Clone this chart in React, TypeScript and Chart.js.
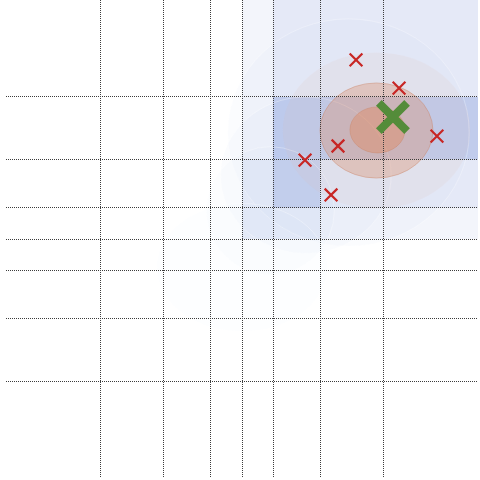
import React, { useEffect, useRef } from "react";
import { Chart, registerables } from "chart.js";

Chart.register(...registerables);

// Axis extents and tick (grid) values, in data units
const X_RANGE = [-1.662, 1.662];
const Y_RANGE = [-1.683, 1.683];
const X_TICKS = [-1.0, -0.55, -0.22, 0, 0.22, 0.55, 1.0];
const Y_TICKS = [-1.0, -0.56, -0.22, 0, 0.22, 0.56, 1.0];

// Observed samples (red crosses)
const SAMPLE_X = [0.803, 1.106, 1.373, 0.676, 0.444, 0.627];
const SAMPLE_Y = [1.261, 1.063, 0.725, 0.655, 0.556, 0.31];

// Best point (green cross)
const BEST_X = [1.063];
const BEST_Y = [0.859];

// Shaded regions: [x0, x1, y0, y1, alpha]
const REGION_X0 = [0, 0.218, 0.218, 0.218, 0];
const REGION_X1 = [1.662, 1.662, 1.662, 0.549, 0.549];
const REGION_Y0 = [0, 0.218, 0.56, 0.22, 0];
const REGION_Y1 = [1.683, 1.683, 1.0, 0.56, 0.56];
const REGION_ALPHA = [0.08, 0.1, 0.28, 0.15, 0.07];

// Faint blue contour ellipses: centre, radii, alpha
const BLUE_CX = [0.75, 0.45, 0.2, 0.0];
const BLUE_CY = [0.75, 0.45, 0.2, -0.2];
const BLUE_RX = [0.85, 0.6, 0.45, 0.6];
const BLUE_RY = [0.8, 0.55, 0.45, 0.45];
const BLUE_ALPHA = [0.03, 0.03, 0.02, 0.012];

// Orange density ellipses around the best point
const ORANGE_CX = [0.947, 0.947, 0.954];
const ORANGE_CY = [0.764, 0.764, 0.768];
const ORANGE_RX = [0.66, 0.398, 0.194];
const ORANGE_RY = [0.55, 0.335, 0.162];
const ORANGE_FILL = [
  "rgba(230,180,160,0.1)",
  "rgba(220,145,110,0.36)",
  "rgba(225,140,100,0.45)",
];

const shadingPlugin = {
  id: "shading",
  beforeDraw(chart: any) {
    const { ctx, chartArea, scales } = chart;
    const xs = scales.x;
    const ys = scales.y;
    ctx.save();
    ctx.beginPath();
    ctx.rect(chartArea.left, chartArea.top, chartArea.right - chartArea.left, chartArea.bottom - chartArea.top);
    ctx.clip();
    for (let i = 0; i < REGION_X0.length; i++) {
      const l = xs.getPixelForValue(REGION_X0[i]);
      const r = xs.getPixelForValue(REGION_X1[i]);
      const t = ys.getPixelForValue(REGION_Y1[i]);
      const b = ys.getPixelForValue(REGION_Y0[i]);
      ctx.fillStyle = `rgba(100,130,210,${REGION_ALPHA[i]})`;
      ctx.fillRect(l, t, r - l, b - t);
    }
    for (let i = 0; i < BLUE_CX.length; i++) {
      const cx = xs.getPixelForValue(BLUE_CX[i]);
      const cy = ys.getPixelForValue(BLUE_CY[i]);
      const rx = Math.abs(xs.getPixelForValue(BLUE_CX[i] + BLUE_RX[i]) - cx);
      const ry = Math.abs(ys.getPixelForValue(BLUE_CY[i] + BLUE_RY[i]) - cy);
      ctx.beginPath();
      ctx.ellipse(cx, cy, rx, ry, 0, 0, Math.PI * 2);
      ctx.fillStyle = `rgba(120,150,220,${BLUE_ALPHA[i]})`;
      ctx.fill();
      ctx.strokeStyle = "rgba(255,255,255,0.3)";
      ctx.lineWidth = 1;
      ctx.stroke();
    }
    for (let i = 0; i < ORANGE_CX.length; i++) {
      const cx = xs.getPixelForValue(ORANGE_CX[i]);
      const cy = ys.getPixelForValue(ORANGE_CY[i]);
      const rx = Math.abs(xs.getPixelForValue(ORANGE_CX[i] + ORANGE_RX[i]) - cx);
      const ry = Math.abs(ys.getPixelForValue(ORANGE_CY[i] + ORANGE_RY[i]) - cy);
      ctx.beginPath();
      ctx.ellipse(cx, cy, rx, ry, 0, 0, Math.PI * 2);
      ctx.fillStyle = ORANGE_FILL[i];
      ctx.fill();
      if (i > 0) {
        ctx.strokeStyle = "rgba(200,130,100,0.4)";
        ctx.lineWidth = 1;
        ctx.stroke();
      }
    }
    ctx.restore();
  },
};

export default function App() {
  const ref = useRef<HTMLCanvasElement | null>(null);
  useEffect(() => {
    if (!ref.current) return;
    const gridOpts = {
      color: "rgba(60,60,60,1)",
      lineWidth: 1,
      drawTicks: false,
    };
    const chart = new Chart(ref.current, {
      type: "scatter",
      data: {
        datasets: [
          {
            data: BEST_X.map((x, i) => ({ x, y: BEST_Y[i] })),
            pointStyle: "crossRot",
            pointRadius: 20,
            pointBorderWidth: 8,
            borderColor: "rgb(84,140,58)",
            backgroundColor: "rgb(84,140,58)",
          },
          {
            data: SAMPLE_X.map((x, i) => ({ x, y: SAMPLE_Y[i] })),
            pointStyle: "crossRot",
            pointRadius: 9,
            pointBorderWidth: 2.2,
            borderColor: "rgb(200,38,36)",
            backgroundColor: "rgb(200,38,36)",
          },
        ],
      },
      options: {
        responsive: false,
        animation: false,
        layout: { autoPadding: false, padding: { left: 6, right: 2, top: 0, bottom: 2 } },
        plugins: { legend: { display: false }, tooltip: { enabled: false } },
        scales: {
          x: {
            type: "linear",
            min: X_RANGE[0],
            max: X_RANGE[1],
            afterBuildTicks: (axis: any) => {
              axis.ticks = X_TICKS.map((v) => ({ value: v }));
            },
            ticks: { display: false },
            border: { display: false, dash: [1, 1] },
            grid: gridOpts,
          },
          y: {
            type: "linear",
            min: Y_RANGE[0],
            max: Y_RANGE[1],
            afterBuildTicks: (axis: any) => {
              axis.ticks = Y_TICKS.map((v) => ({ value: v }));
            },
            ticks: { display: false },
            border: { display: false, dash: [1, 1] },
            grid: gridOpts,
          },
        },
      },
      plugins: [shadingPlugin],
    } as any);
    return () => chart.destroy();
  }, []);
  return (
    <div style={{ position: "fixed", left: 0, top: 0, width: 480, height: 480, background: "#fff" }}>
      <canvas ref={ref} width={480} height={480} />
    </div>
  );
}
